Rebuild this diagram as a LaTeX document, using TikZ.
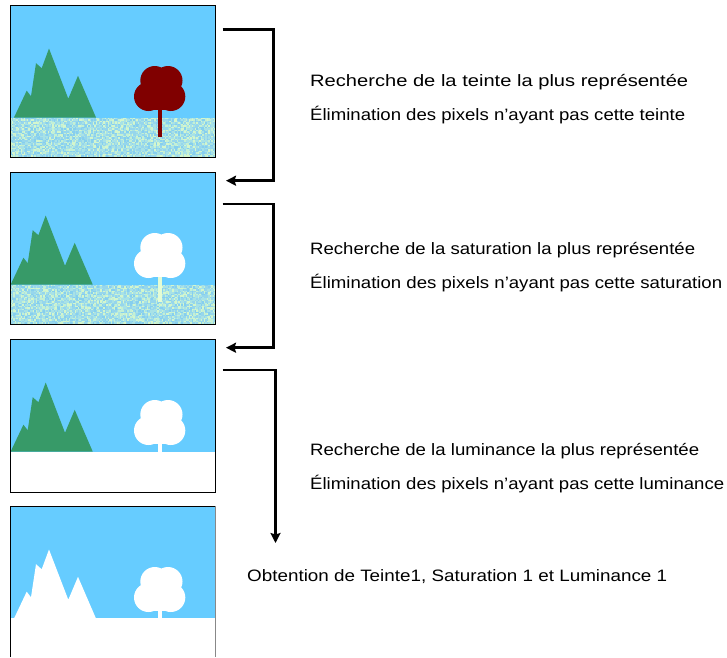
\documentclass[tikz,border=0pt]{standalone}
\usepackage{graphicx}
\usepackage{fontspec}
\setmainfont{Liberation Sans}
\usetikzlibrary{arrows.meta}

\definecolor{sky}{HTML}{66CCFF}
\definecolor{hill}{HTML}{379A68}
\definecolor{bark}{HTML}{800000}
\definecolor{gndA}{HTML}{96D6EC}
\definecolor{gndB}{HTML}{C4F0D4}
\definecolor{gndC}{HTML}{A8E2E6}
\definecolor{gndD}{HTML}{D4F6CC}
\definecolor{gndE}{HTML}{86CFEE}
\definecolor{paletrunk}{HTML}{E4FCD4}
\definecolor{edgegray}{HTML}{888888}

% stretch a line of text horizontally to a given width (in pt)
\newcommand\fitw[2]{\resizebox{#1pt}{\height}{#2}}

% mountains: #1 = horizontal offset, #2 = panel top, #3 = colour
\newcommand\hills[3]{%
  \begin{scope}[shift={(10+#1,#2)}]
    \fill[#3] (4,112.5) -- (16.7,85.7) -- (21,91.2) -- (26,58.2) -- (31.7,63.2)
      -- (39,43.5) -- (58.3,93.7) -- (68,70.8) -- (86,112.5) -- cycle;
  \end{scope}}

% tree: #1 = panel top, #2 = canopy colour, #3 = trunk colour, #4 = trunk end
\newcommand\shrub[4]{%
  \begin{scope}[shift={(0,#1)}]
    \fill[#3] (158,90) rectangle (162,#4);
    \fill[#2] (154.8,75.5) circle (14.5) (168,75.5) circle (14.5)
      (148.5,91.5) circle (14.5) (170.8,91.5) circle (14.5);
    \fill[#2] (148.5,75.5) rectangle (170.8,104.6);
  \end{scope}}

% speckled ground: #1 = panel top, #2 = random seed
\pgfmathdeclarerandomlist{gnd}{{gndA}{gndB}{gndC}{gndD}{gndE}{gndA}{gndC}}
\newcommand\speckle[2]{%
  \pgfmathsetseed{#2}%
  \begin{scope}
    \clip (10,#1+112.5) rectangle (215,#1+152);
    \fill[gndC] (10,#1+112.5) rectangle (215,#1+152);
    \foreach \gx in {0,1.5,...,204}{
      \foreach \gy in {0,1.5,...,39}{
        \pgfmathrandomitem{\gc}{gnd}
        \fill[\gc] (10+\gx,#1+112.5+\gy) rectangle ++(1.5,1.5);
      }}
  \end{scope}}

\tikzset{
  frame/.style={draw=black, line width=1pt},
  flow/.style={line width=2.7pt, line join=miter,
    -{Stealth[length=10pt,width=10pt,inset=1.5pt]}},
  caption/.style={anchor=base west, inner sep=0pt,
    font=\fontsize{16.5}{19}\selectfont},
}

\begin{document}
\begin{tikzpicture}[x=1pt,y=-1pt]
  \useasboundingbox[fill=white] (0,0) rectangle (727,657);

  % panel 1: original image
  \fill[sky] (10,5) rectangle (215,157);
  \speckle{5}{11}
  \hills{0}{5}{hill}
  \shrub{5}{bark}{bark}{131.7}
  \draw[frame] (10,5) rectangle (215,157);

  % panel 2: hue kept
  \fill[sky] (10,172) rectangle (215,324);
  \speckle{172}{23}
  \hills{-3.3}{172}{hill}
  \shrub{172}{white}{paletrunk}{130}
  \draw[frame] (10,172) rectangle (215,324);

  % panel 3: saturation kept
  \fill[sky] (10,339) rectangle (215,451.5);
  \hills{-3.3}{339}{hill}
  \shrub{339}{white}{white}{112.5}
  \draw[frame] (10,339) rectangle (215,492);

  % panel 4: luminance kept
  \fill[sky] (10,506) rectangle (215,618);
  \hills{0}{506}{white}
  \shrub{506}{white}{white}{112}
  \draw[frame] (10,657) -- (10,506) -- (215,506);
  \draw[edgegray, line width=1pt] (215,506) -- (215,657);

  % connector end points
  \coordinate (s1) at (222.5,29.3);
  \coordinate (e1) at (226,180.7);
  \coordinate (s2) at (222.5,204);
  \coordinate (e2) at (226,347.7);
  \coordinate (s3) at (222.5,370);
  \coordinate (e3) at (275.5,543);

  \draw[flow] (s1) -- (273.3,29.3) |- (e1);
  \draw[flow] (s2) -- (273.3,204) |- (e2);
  \draw[flow] (s3) -- (e3 |- s3) -- (e3);

  % captions
  \node[caption] (c1) at (310,86)
    {\fitw{378}{Recherche de la teinte la plus représentée}};
  \node[caption] (c2) at (310,120)
    {\fitw{375}{Élimination des pixels n’ayant pas cette teinte}};
  \node[caption] (c3) at (310,254)
    {\fitw{385}{Recherche de la saturation la plus représentée}};
  \node[caption] (c4) at (310,288)
    {\fitw{412}{Élimination des pixels n’ayant pas cette saturation}};
  \node[caption] (c5) at (310,455)
    {\fitw{389}{Recherche de la luminance la plus représentée}};
  \node[caption] (c6) at (310,489)
    {\fitw{414}{Élimination des pixels n’ayant pas cette luminance}};
  \node[caption] (c7) at (247,581)
    {\fitw{420}{Obtention de Teinte1, Saturation 1 et Luminance 1}};
\end{tikzpicture}
\end{document}
